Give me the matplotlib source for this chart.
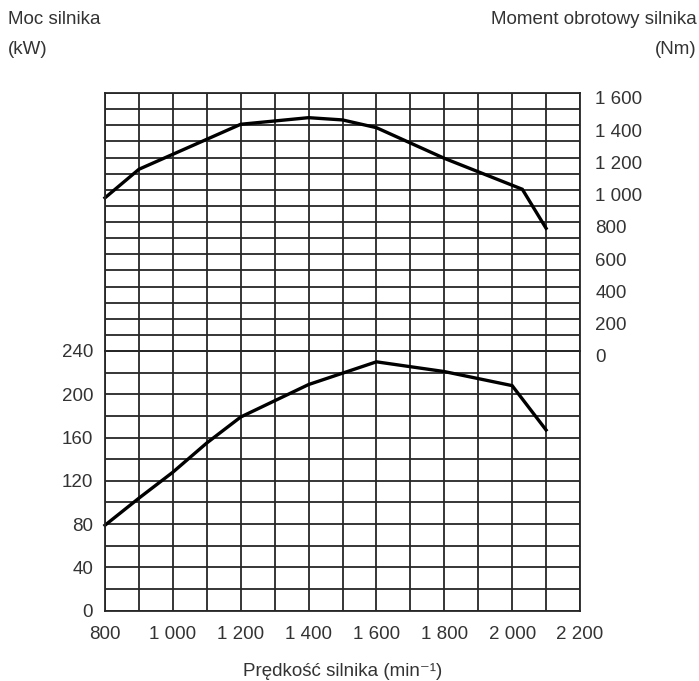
import matplotlib
matplotlib.use("Agg")
import matplotlib.pyplot as plt
import matplotlib.transforms as mtransforms

# data
torque_rpm = [800, 900, 1000, 1100, 1200, 1400, 1500, 1600, 1800, 2030, 2100]
torque_nm = [950, 1127, 1220, 1313, 1406, 1447, 1433, 1385, 1195, 1003, 761]

power_rpm = [800, 900, 1000, 1100, 1200, 1300, 1400, 1600, 1800, 2000, 2100]
power_kw = [79, 104, 128, 155, 179, 194, 209, 230, 221, 208, 167]

x_major = list(range(800, 2201, 200))
x_minor = list(range(800, 2201, 100))
x_labels = ["800", "1 000", "1 200", "1 400", "1 600", "1 800", "2 000", "2 200"]

power_major = list(range(0, 241, 40))
power_minor = list(range(0, 241, 20))

torque_major = list(range(0, 1601, 200))
torque_minor = list(range(0, 1601, 100))
torque_labels = ["0", "200", "400", "600", "800", "1 000", "1 200", "1 400", "1 600"]

plt.rcParams["font.family"] = ["Liberation Sans", "DejaVu Sans"]
TXT = "#333333"
GRID = "#262626"
FS = 13.5

W, H = 699, 681
fig = plt.figure(figsize=(W / 100, H / 100), dpi=100)

left, right = 105, 580
y_zero, y_mid, y_top = 610.7, 351, 93

ax_p = fig.add_axes([left / W, 1 - y_zero / H, (right - left) / W, (y_zero - y_mid) / H])
ax_t = fig.add_axes([left / W, 1 - y_mid / H, (right - left) / W, (y_mid - y_top) / H])

for ax in (ax_p, ax_t):
    ax.set_xlim(800, 2200)
    ax.set_xticks(x_major)
    ax.set_xticks(x_minor, minor=True)
    ax.grid(True, which="both", color=GRID, lw=1.3)
    ax.tick_params(which="both", length=0, colors=TXT, labelsize=FS)
    for s in ax.spines.values():
        s.set_color(GRID)
        s.set_linewidth(1.3)
    ax.set_axisbelow(True)

# power (bottom)
ax_p.set_ylim(0, 240)
ax_p.set_yticks(power_major)
ax_p.set_yticks(power_minor, minor=True)
ax_p.set_xticklabels(x_labels)
ax_p.tick_params(axis="y", pad=8.5)
ax_p.tick_params(axis="x", pad=11)
ax_p.plot(power_rpm, power_kw, color="black", lw=2.4, solid_joinstyle="miter", clip_on=False)

# torque (top)
ax_t.set_ylim(0, 1600)
ax_t.set_yticks(torque_major)
ax_t.set_yticks(torque_minor, minor=True)
ax_t.set_yticklabels(torque_labels)
ax_t.yaxis.tick_right()
ax_t.tick_params(axis="y", pad=11)
ax_t.tick_params(axis="x", labelbottom=False)
ax_t.plot(torque_rpm, torque_nm, color="black", lw=2.4, solid_joinstyle="miter", clip_on=False)

shift = mtransforms.ScaledTranslation(0, -3.5 / 72, fig.dpi_scale_trans)
for lab in ax_t.get_yticklabels():
    lab.set_transform(lab.get_transform() + shift)

fig.text(8 / W, 1 - 20 / H, "Moc silnika", ha="left", va="center", fontsize=FS, color=TXT)
fig.text(8 / W, 1 - 50 / H, "(kW)", ha="left", va="center", fontsize=FS, color=TXT)
fig.text(697 / W, 1 - 20 / H, "Moment obrotowy silnika", ha="right", va="center", fontsize=FS, color=TXT)
fig.text(697 / W, 1 - 50 / H, "(Nm)", ha="right", va="center", fontsize=FS, color=TXT)
fig.text(342.5 / W, 1 - 672 / H, "Prędkość silnika (min⁻¹)", ha="center", va="center",
         fontsize=FS, color=TXT)

fig.savefig("out.png", dpi=100)
